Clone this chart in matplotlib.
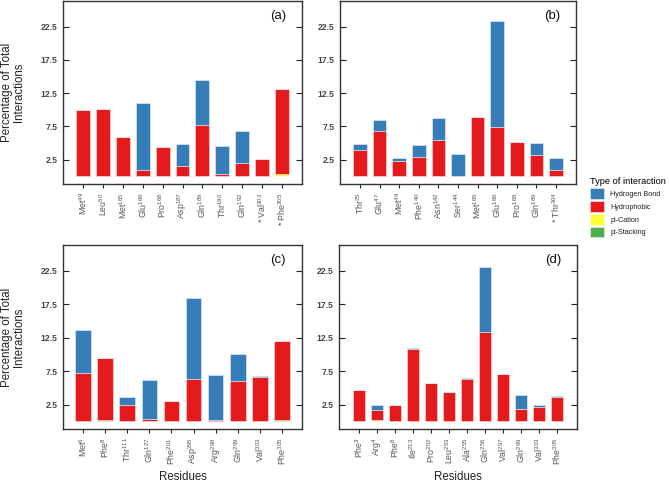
import matplotlib
matplotlib.use('Agg')
import matplotlib.pyplot as plt
from matplotlib.patches import Patch
import numpy as np

plt.rcParams['font.family'] = ['Liberation Sans', 'DejaVu Sans']
plt.rcParams['mathtext.fontset'] = 'custom'
plt.rcParams['mathtext.rm'] = 'Liberation Sans'

TYPES = ['Hydrogen Bond', 'Hydrophobic', 'pi-Cation', 'pi-Stacking']
COLORS = {'Hydrogen Bond': '#377EB8', 'Hydrophobic': '#E41A1C',
          'pi-Cation': '#FFFF33', 'pi-Stacking': '#4DAF4A'}
Y_TICKS = [2.5, 7.5, 12.5, 17.5, 22.5]

# panel (a)
a_res = ['Met', 'Leu', 'Met', 'Glu', 'Pro', 'Asp', 'Gln', 'Thr', 'Gln', '* Val', '* Phe']
a_num = ['49', '50', '165', '166', '168', '187', '189', '190', '192', '303', '305']
a_hbond = [0, 0, 0, 10.0, 0, 3.25, 6.85, 4.25, 4.75, 0, 0]
a_hydro = [10.0, 10.1, 5.9, 1.0, 4.45, 1.6, 7.65, 0.3, 2.0, 2.55, 12.9]
a_cation = [0, 0, 0, 0, 0, 0, 0, 0, 0, 0, 0.3]
a_stack = [0, 0, 0, 0, 0, 0, 0, 0, 0, 0, 0]

# panel (b)
b_res = ['Thr', 'Glu', 'Met', 'Phe', 'Asn', 'Ser', 'Met', 'Glu', 'Pro', 'Gln', '* Thr']
b_num = ['25', '47', '49', '140', '142', '144', '165', '166', '168', '189', '304']
b_hbond = [1.0, 1.7, 0.55, 1.7, 3.35, 3.4, 0, 15.9, 0, 1.85, 1.8]
b_hydro = [3.9, 6.75, 2.25, 2.95, 5.45, 0, 8.9, 7.4, 5.2, 3.15, 1.0]
b_cation = [0, 0, 0, 0, 0, 0, 0, 0, 0, 0, 0]
b_stack = [0, 0, 0, 0, 0, 0, 0, 0, 0, 0, 0]

# panel (c)
c_res = ['Met', 'Phe', 'Thr', 'Gln', 'Phe', 'Asp', 'Arg', 'Gln', 'Val', 'Phe']
c_num = ['6', '8', '111', '127', '201', '295', '298', '299', '303', '305']
c_hbond = [6.45, 0, 1.2, 5.9, 0, 12.2, 6.75, 3.95, 0.1, 0]
c_hydro = [7.15, 9.2, 2.4, 0.3, 3.1, 6.3, 0.15, 6.05, 6.65, 11.85]
c_cation = [0, 0, 0, 0, 0, 0, 0, 0, 0, 0]
c_stack = [0, 0.25, 0, 0, 0, 0, 0, 0, 0, 0.15]

# panel (d)
d_res = ['Phe', 'Arg', 'Phe', 'Ile', 'Pro', 'Leu', 'Ala', 'Gln', 'Val', 'Gln', 'Val', 'Phe']
d_num = ['3', '4', '8', '213', '252', '253', '255', '256', '297', '299', '303', '305']
d_hbond = [0, 0.8, 0, 0.1, 0, 0, 0.25, 9.65, 0, 2.15, 0.2, 0.2]
d_hydro = [4.6, 1.55, 2.35, 10.8, 5.75, 4.35, 6.25, 13.4, 7.0, 1.85, 2.2, 3.55]
d_cation = [0, 0.15, 0, 0, 0, 0, 0, 0, 0, 0, 0, 0]
d_stack = [0.1, 0, 0.1, 0, 0, 0, 0, 0, 0, 0, 0, 0.1]

PANELS = [
    ('(a)', a_res, a_num, [a_hbond, a_hydro, a_cation, a_stack], [63, 1, 239, 183]),
    ('(b)', b_res, b_num, [b_hbond, b_hydro, b_cation, b_stack], [340, 1, 236, 183]),
    ('(c)', c_res, c_num, [c_hbond, c_hydro, c_cation, c_stack], [63, 245, 239, 184]),
    ('(d)', d_res, d_num, [d_hbond, d_hydro, d_cation, d_stack], [339, 245, 238, 184]),
]

W, H = 669, 484
fig = plt.figure(figsize=(W / 100, H / 100), dpi=100)


def draw_panel(tag, res, num, series, box):
    left, top, w, h = box
    ax = fig.add_axes([left / W, 1 - (top + h) / H, w / W, h / H])
    n = len(res)
    x = np.arange(n)
    bottom = np.zeros(n)
    # stack from the bottom: pi-Stacking, pi-Cation, Hydrophobic, Hydrogen Bond
    for name, vals in reversed(list(zip(TYPES, series))):
        vals = np.asarray(vals, dtype=float)
        ax.bar(x, vals, width=0.7, bottom=bottom, color=COLORS[name],
               edgecolor=(1, 1, 1, 0.45), linewidth=0.7)
        bottom += vals
    pad = 20 * (n - 1) / (w - 40)
    ax.set_xlim(-pad, n - 1 + pad)
    ax.set_ylim(-1.15, 26.35)
    ax.set_yticks(Y_TICKS)
    ax.set_yticklabels([str(t) for t in Y_TICKS], fontsize=6.2,
                       fontweight='bold', color='#444444')
    ax.tick_params(axis='y', direction='in', length=4.5, width=0.8,
                   left=True, right=True, pad=4, color='#222222')
    ax.set_xticks(x)
    labels = [f'{r}$^{{\\mathregular{{{s}}}}}$' for r, s in zip(res, num)]
    ax.set_xticklabels(labels, rotation=90, fontsize=6.3, color='#555555')
    ax.tick_params(axis='x', direction='out', length=3, width=0.8,
                   pad=3, color='#222222')
    for sp in ax.spines.values():
        sp.set_linewidth(1.0)
        sp.set_color('#333333')
    ax.text(0.9, 0.92, tag, transform=ax.transAxes, ha='center', va='center',
            fontsize=9.5, color='#111111')
    if left < 100:
        fig.text(13 / W, 1 - (top + h / 2) / H, 'Percentage of Total\nInteractions',
                 rotation=90, ha='center', va='center', fontsize=8.3,
                 color='#222222', linespacing=1.0)
    if top > 100:
        fig.text((left + w / 2) / W, 1 - 477 / H, 'Residues', ha='center',
                 va='center', fontsize=8.3, color='#222222')
    return ax


for p in PANELS:
    draw_panel(*p)

handles = [Patch(facecolor=COLORS[t], edgecolor=(1, 1, 1, 0.45), linewidth=0.7)
           for t in TYPES]
leg = fig.legend(handles, TYPES, loc='upper left',
                 bbox_to_anchor=(590 / W, 1 - 177 / H), frameon=False,
                 title='Type of interaction', title_fontsize=6.7, fontsize=5.2,
                 handlelength=2.0, handleheight=1.9, labelspacing=0.3,
                 handletextpad=0.8, borderpad=0, borderaxespad=0,
                 alignment='left')
for t in leg.get_texts():
    t.set_color('#222222')

fig.savefig('out.png', dpi=100)
